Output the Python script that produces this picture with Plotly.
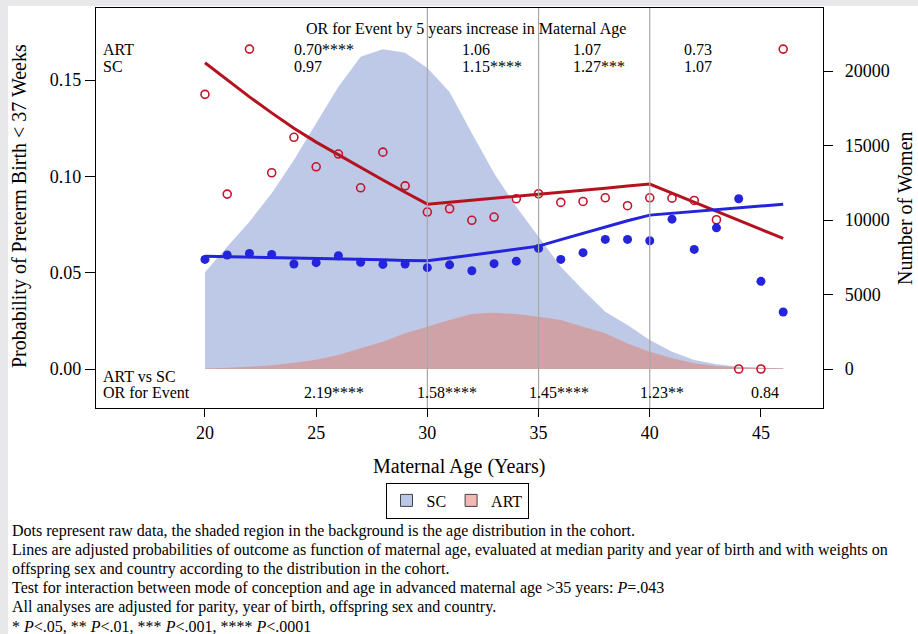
import plotly.graph_objects as go

# ---------------- data ----------------
ages = list(range(20, 47))

# age distribution (Number of Women)
sc_count = [6490, 8210, 9890, 11790, 14030, 16490, 18950, 20960, 21460, 21230,
            20200, 18590, 15820, 13130, 10890, 8880, 6870, 5300, 3850, 2950,
            1950, 1160, 600, 315, 155, 90, 45]
art_count = [40, 80, 150, 260, 420, 620, 940, 1390, 1830, 2400,
             2840, 3290, 3690, 3780, 3690, 3510, 3290, 2840, 2400, 1720,
             1150, 720, 380, 200, 110, 70, 45]

# raw probabilities (dots)
sc_raw = [0.0569, 0.0592, 0.0600, 0.0595, 0.0545, 0.0552, 0.0588, 0.0554, 0.0543, 0.0545,
          0.0526, 0.0541, 0.0510, 0.0547, 0.0560, 0.0626, 0.0569, 0.0604, 0.0673, 0.0673,
          0.0666, 0.0778, 0.0621, 0.0733, 0.0884, 0.0455, 0.0296]
art_raw = [0.1426, 0.0908, 0.1661, 0.1019, 0.1203, 0.1050, 0.1116, 0.0941, 0.1126, 0.0951,
           0.0815, 0.0832, 0.0772, 0.0789, 0.0884, 0.0910, 0.0865, 0.0870, 0.0889, 0.0848,
           0.0889, 0.0887, 0.0875, 0.0775, 0.0000, 0.0000, 0.1661]

# adjusted probabilities (lines)
sc_adj = [0.0586, 0.0584, 0.0581, 0.0579, 0.0576, 0.0574, 0.0572, 0.0569, 0.0567, 0.0564,
          0.0562, 0.0576, 0.0591, 0.0606, 0.0621, 0.0638, 0.0672, 0.0706, 0.0739, 0.0770,
          0.0799, 0.0809, 0.0818, 0.0828, 0.0837, 0.0847, 0.0856]
art_adj = [0.1590, 0.1500, 0.1413, 0.1330, 0.1250, 0.1178, 0.1111, 0.1045, 0.0981, 0.0918,
           0.0856, 0.0866, 0.0876, 0.0887, 0.0897, 0.0908, 0.0918, 0.0929, 0.0939, 0.0950,
           0.0960, 0.0913, 0.0866, 0.0819, 0.0772, 0.0725, 0.0678]

cut_ages = [30, 35, 40]

# OR for event by 5 years increase (per age band)
or_art = ["0.70****", "1.06", "1.07", "0.73"]
or_sc = ["0.97", "1.15****", "1.27***", "1.07"]
or_band_pos = [23.9, 31.45, 36.44, 41.47]

# ART vs SC OR for event
or_vs = ["2.19****", "1.58****", "1.45****", "1.23**", "0.84"]
or_vs_pos = [25.8, 30.9, 35.92, 40.57, 45.2]

x_ticks = [20, 25, 30, 35, 40, 45]
prob_ticks = [0.0, 0.05, 0.10, 0.15]
count_ticks = [0, 5000, 10000, 15000, 20000]

caption_lines = [
    "Dots represent raw data, the shaded region in the background is the age distribution in the cohort.",
    "Lines are adjusted probabilities of outcome as function of maternal age, evaluated at median parity and year of birth and with weights on",
    "offspring sex and country according to the distribution in the cohort.",
    "Test for interaction between mode of conception and age in advanced maternal age &gt;35 years: <i>P</i>=.043",
    "All analyses are adjusted for parity, year of birth, offspring sex and country.",
    "* <i>P</i>&lt;.05, ** <i>P</i>&lt;.01, *** <i>P</i>&lt;.001, **** <i>P</i>&lt;.0001",
]

# ---------------- figure ----------------
FONT = "Liberation Serif, Times New Roman, serif"
W, H = 918, 634
L, R, T, B = 96, 95, 8, 226
PW, PH = W - L - R, H - T - B


def px_x(px):
    return (px - L) / PW


def px_y(py):
    return (H - B - py) / PH


SC_FILL = "#bdc9e6"
ART_FILL = "#cfa2a8"
BLUE = "#2424dc"
RED = "#b5121f"

fig = go.Figure()

# areas on count axis (primary y, drawn underneath)
fig.add_trace(go.Scatter(x=ages, y=sc_count, mode="none", fill="tozeroy",
                         fillcolor=SC_FILL, yaxis="y", showlegend=False, hoverinfo="skip"))
fig.add_trace(go.Scatter(x=ages, y=art_count, mode="none", fill="tozeroy",
                         fillcolor=ART_FILL, yaxis="y", showlegend=False, hoverinfo="skip"))

# lines and dots on probability axis (overlaying)
fig.add_trace(go.Scatter(x=ages, y=art_adj, mode="lines", line=dict(color=RED, width=3),
                         yaxis="y2", showlegend=False))
fig.add_trace(go.Scatter(x=ages, y=sc_adj, mode="lines", line=dict(color=BLUE, width=3),
                         yaxis="y2", showlegend=False))
fig.add_trace(go.Scatter(x=ages, y=art_raw, mode="markers",
                         marker=dict(symbol="circle-open", size=8, color="#c4142b",
                                     line=dict(width=1.6, color="#c4142b")),
                         yaxis="y2", showlegend=False))
fig.add_trace(go.Scatter(x=ages, y=sc_raw, mode="markers",
                         marker=dict(symbol="circle", size=9, color=BLUE),
                         yaxis="y2", showlegend=False))

# legend entries
fig.add_trace(go.Scatter(x=[None], y=[None], mode="markers", name="SC",
                         marker=dict(symbol="square", size=12, color="#bac7e8",
                                     line=dict(width=1, color="#444")), yaxis="y2"))
fig.add_trace(go.Scatter(x=[None], y=[None], mode="markers", name="ART",
                         marker=dict(symbol="square", size=12, color="#f2b8b4",
                                     line=dict(width=1, color="#444")), yaxis="y2"))

shapes = [dict(type="rect", xref="paper", yref="paper", x0=px_x(8), x1=px_x(W + 5),
               y0=px_y(6), y1=px_y(H + 5), fillcolor="white", line=dict(width=0),
               layer="below")]
for a in cut_ages:
    shapes.append(dict(type="line", xref="x", yref="paper", x0=a, x1=a, y0=0, y1=1,
                       line=dict(color="#a8a8a8", width=1.2), layer="above"))

ann = []
fs = 16
ann.append(dict(x=31.74, xref="x", y=px_y(29), yref="paper",
                text="OR for Event by 5 years increase in Maternal Age",
                showarrow=False, xanchor="center", yanchor="middle", font=dict(size=fs)))
ann.append(dict(x=px_x(101), xref="paper", y=px_y(50), yref="paper", text="ART",
                showarrow=False, xanchor="left", yanchor="middle", font=dict(size=fs)))
ann.append(dict(x=px_x(101), xref="paper", y=px_y(66), yref="paper", text="SC",
                showarrow=False, xanchor="left", yanchor="middle", font=dict(size=fs)))
for pos, a_txt, s_txt in zip(or_band_pos, or_art, or_sc):
    ann.append(dict(x=pos, xref="x", y=px_y(50), yref="paper", text=a_txt,
                    showarrow=False, xanchor="left", yanchor="middle", font=dict(size=fs)))
    ann.append(dict(x=pos, xref="x", y=px_y(66), yref="paper", text=s_txt,
                    showarrow=False, xanchor="left", yanchor="middle", font=dict(size=fs)))
ann.append(dict(x=px_x(101), xref="paper", y=px_y(376.5), yref="paper", text="ART vs SC",
                showarrow=False, xanchor="left", yanchor="middle", font=dict(size=fs)))
ann.append(dict(x=px_x(101), xref="paper", y=px_y(392.5), yref="paper", text="OR for Event",
                showarrow=False, xanchor="left", yanchor="middle", font=dict(size=fs)))
for pos, txt in zip(or_vs_pos, or_vs):
    ann.append(dict(x=pos, xref="x", y=px_y(392.5), yref="paper", text=txt,
                    showarrow=False, xanchor="center", yanchor="middle", font=dict(size=fs)))

# axis titles
ann.append(dict(x=px_x(19), xref="paper", y=px_y(206), yref="paper",
                text="Probability of Preterm Birth &lt; 37 Weeks", textangle=-90,
                showarrow=False, xanchor="center", yanchor="middle", font=dict(size=20)))
ann.append(dict(x=px_x(905), xref="paper", y=px_y(208), yref="paper",
                text="Number of Women", textangle=-90,
                showarrow=False, xanchor="center", yanchor="middle", font=dict(size=20)))
ann.append(dict(x=px_x(459), xref="paper", y=px_y(466), yref="paper",
                text="Maternal Age (Years)",
                showarrow=False, xanchor="center", yanchor="middle", font=dict(size=20)))

# caption
for i, line in enumerate(caption_lines):
    ann.append(dict(x=px_x(10), xref="paper", y=px_y(531 + 19 * i), yref="paper",
                    text=line, showarrow=False, xanchor="left", yanchor="middle",
                    font=dict(size=16)))

fig.update_layout(
    width=W, height=H,
    margin=dict(l=L, r=R, t=T, b=B, pad=0),
    paper_bgcolor="#e8e8eb",
    plot_bgcolor="white",
    font=dict(family=FONT, color="black", size=16),
    shapes=shapes,
    annotations=ann,
    xaxis=dict(range=[15.10, 47.79], tickvals=x_ticks, ticks="outside", ticklen=8,
               tickcolor="black", showline=True, linecolor="black", linewidth=1.2,
               mirror=True, showgrid=False, zeroline=False, tickfont=dict(size=18),
               anchor="y"),
    yaxis=dict(range=[-2617, 24228], tickvals=count_ticks, tickformat="d", side="right",
               ticks="outside", ticklen=9, tickcolor="black", showline=True,
               linecolor="black", linewidth=1.2, showgrid=False, zeroline=False,
               tickfont=dict(size=18), ticklabelstandoff=8),
    yaxis2=dict(range=[-0.02025, 0.18744], tickvals=prob_ticks, tickformat=".2f",
                side="left", overlaying="y", ticks="outside", ticklen=10,
                tickcolor="black", showline=True, linecolor="black", linewidth=1.2,
                showgrid=False, zeroline=False, tickfont=dict(size=18)),
    legend=dict(orientation="h", x=px_x(457), xanchor="center", y=px_y(500.5),
                yanchor="middle", bordercolor="black", borderwidth=1, bgcolor="white",
                font=dict(size=16), itemwidth=30, tracegroupgap=0),
    showlegend=True,
)

fig.write_html("out.html")
